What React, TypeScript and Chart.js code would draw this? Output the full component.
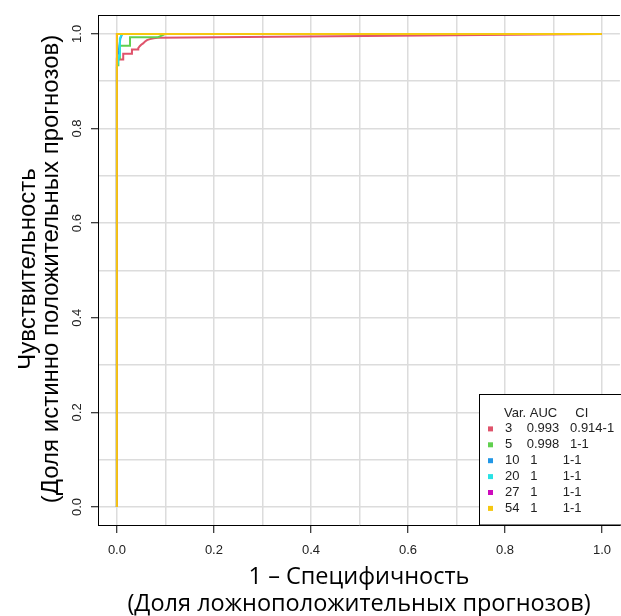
import React, { useEffect, useRef } from 'react';
import { Chart, registerables } from 'chart.js';

Chart.register(...registerables);

// ---- data ----
const seriesNames = ['3', '5', '10', '20', '27', '54'];
const aucValues = ['0.993', '0.998', '1', '1', '1', '1'];
const ciValues = ['0.914-1', '1-1', '1-1', '1-1', '1-1', '1-1'];
const seriesColors = ['#DF536B', '#61D04F', '#2297E6', '#28E2E5', '#CD0BBC', '#F5C710'];

const fpr3 = [0, 0, 0.013, 0.013, 0.031, 0.031, 0.044, 0.044, 0.047, 0.05, 0.054, 0.058, 0.062, 0.068, 0.076, 0.084, 1];
const tpr3 = [0, 0.946, 0.946, 0.958, 0.958, 0.967, 0.967, 0.970, 0.974, 0.977, 0.980, 0.984, 0.987, 0.989, 0.991, 0.992, 1];
const fpr5 = [0, 0, 0.003, 0.003, 0.006, 0.006, 0.027, 0.027, 0.085, 0.1, 1];
const tpr5 = [0, 0.934, 0.934, 0.948, 0.948, 0.975, 0.975, 0.993, 0.993, 1, 1];
const fpr10 = [0, 0, 0.004, 0.007, 0.011, 1];
const tpr10 = [0, 0.95, 0.965, 0.99, 1, 1];
const fpr20 = [0, 0, 0.005, 0.006, 0.01, 1];
const tpr20 = [0, 0.93, 0.955, 0.99, 1, 1];
const fpr27 = [0, 0, 1];
const tpr27 = [0, 1, 1];
const fpr54 = [0, 0, 1];
const tpr54 = [0, 1, 1];

const fprList = [fpr3, fpr5, fpr10, fpr20, fpr27, fpr54];
const tprList = [tpr3, tpr5, tpr10, tpr20, tpr27, tpr54];

const gridValues = [0, 0.1, 0.2, 0.3, 0.4, 0.5, 0.6, 0.7, 0.8, 0.9, 1];
const labeledTicks = [0, 0.2, 0.4, 0.6, 0.8, 1];

const xTitle = ['1 – Специфичность', '(Доля ложноположительных прогнозов)'];
const yTitle = ['Чувствительность', '(Доля истинно положительных прогнозов)'];
const legendHeader = ['Var.', 'AUC', 'CI'];

const TICK_FONT = '"Liberation Sans", Arial, sans-serif';

const isLabeled = (v: number) => labeledTicks.some((t) => Math.abs(t - v) < 1e-9);

const decorPlugin = {
  id: 'decor',
  afterDraw(chart: any) {
    const { ctx, chartArea, scales } = chart;
    ctx.save();
    // top border of plot box
    ctx.strokeStyle = '#000';
    ctx.lineWidth = 1;
    ctx.beginPath();
    ctx.moveTo(chartArea.left, chartArea.top + 0.5);
    ctx.lineTo(chartArea.right, chartArea.top + 0.5);
    ctx.stroke();

    // y tick labels (rotated, as in R)
    ctx.font = `13px ${TICK_FONT}`;
    ctx.fillStyle = '#222';
    ctx.textAlign = 'center';
    ctx.textBaseline = 'middle';
    labeledTicks.forEach((v) => {
      const y = scales.y.getPixelForValue(v);
      ctx.save();
      ctx.translate(77, y);
      ctx.rotate(-Math.PI / 2);
      ctx.fillText(v.toFixed(1), 0, 0);
      ctx.restore();
    });

    // y title
    ctx.fillStyle = '#000';
    ctx.font = `24px ${TICK_FONT}`;
    const yc = 269;
    [28, 51].forEach((x, i) => {
      ctx.save();
      ctx.translate(x, yc);
      ctx.rotate(-Math.PI / 2);
      ctx.fillText(yTitle[i], 0, 0);
      ctx.restore();
    });

    // x title
    ctx.font = `23.5px "Open Sans", sans-serif`;
    const xc = 359;
    ctx.fillText(xTitle[0], xc, 577);
    ctx.fillText(xTitle[1], xc, 604);

    // legend box
    const lx = 479.5;
    const ly = 394.5;
    ctx.fillStyle = '#fff';
    ctx.fillRect(lx, ly, 200, chartArea.bottom - ly);
    ctx.strokeStyle = '#000';
    ctx.lineWidth = 1;
    ctx.strokeRect(lx, ly, 200, chartArea.bottom - ly);

    ctx.font = `13px ${TICK_FONT}`;
    ctx.fillStyle = '#222';
    ctx.textAlign = 'left';
    ctx.textBaseline = 'middle';
    ctx.fillText(legendHeader[0] + ' ' + legendHeader[1] + '     ' + legendHeader[2], 504, 413);
    seriesNames.forEach((name, i) => {
      const y = 413 + 15.9 * (i + 1);
      ctx.fillStyle = seriesColors[i];
      ctx.fillRect(488, y - 2.5, 5, 5);
      ctx.fillStyle = '#222';
      const txt = name.padEnd(2, ' ') + '   ' + aucValues[i].padEnd(5, ' ') + '   ' + ciValues[i];
      ctx.fillText(txt, 505, y);
    });
    ctx.restore();
  },
};

export default function App() {
  const canvasRef = useRef<HTMLCanvasElement | null>(null);

  useEffect(() => {
    const canvas = canvasRef.current;
    if (!canvas) return;
    const datasets = seriesNames.map((name, i) => ({
      label: name,
      data: fprList[i].map((x, j) => ({ x, y: tprList[i][j] })),
      borderColor: seriesColors[i],
      backgroundColor: seriesColors[i],
      borderWidth: 2,
      pointRadius: 0,
      fill: false,
      tension: 0,
      order: seriesNames.length - i,
    }));

    const chart = new Chart(canvas, {
      type: 'line',
      data: { datasets },
      plugins: [decorPlugin],
      options: {
        animation: false,
        responsive: false,
        maintainAspectRatio: false,
        devicePixelRatio: 1,
        layout: { padding: { top: 15, left: 0, right: 0, bottom: 0 } },
        plugins: { legend: { display: false }, tooltip: { enabled: false } },
        scales: {
          x: {
            type: 'linear',
            min: -0.039,
            max: 1.037,
            afterFit: (s: any) => {
              s.height = 91;
            },
            afterBuildTicks: (s: any) => {
              s.ticks = gridValues.map((v) => ({ value: v }));
            },
            grid: {
              color: '#dcdcdc',
              lineWidth: 1.5,
              tickLength: 8,
              tickWidth: 1,
              tickColor: (c: any) => (c.tick && isLabeled(c.tick.value) ? '#000' : 'rgba(0,0,0,0)'),
            },
            border: { display: true, color: '#000', width: 1 },
            ticks: {
              autoSkip: false,
              maxRotation: 0,
              padding: 10,
              color: '#222',
              font: { family: TICK_FONT, size: 13 },
              callback: (v: any) => (isLabeled(Number(v)) ? Number(v).toFixed(1) : ''),
            },
          },
          y: {
            type: 'linear',
            min: -0.038,
            max: 1.04,
            afterFit: (s: any) => {
              s.width = 98;
            },
            afterBuildTicks: (s: any) => {
              s.ticks = gridValues.map((v) => ({ value: v }));
            },
            grid: {
              color: '#dcdcdc',
              lineWidth: 1.5,
              tickLength: 7,
              tickWidth: 1,
              tickColor: (c: any) => (c.tick && isLabeled(c.tick.value) ? '#000' : 'rgba(0,0,0,0)'),
            },
            border: { display: true, color: '#000', width: 1 },
            ticks: { display: false },
          },
        },
      },
    });
    return () => chart.destroy();
  }, []);

  return (
    <div style={{ position: 'fixed', left: 0, top: 0, width: 621, height: 616, background: '#fff' }}>
      <canvas ref={canvasRef} width={621} height={616} style={{ display: 'block' }} />
    </div>
  );
}
